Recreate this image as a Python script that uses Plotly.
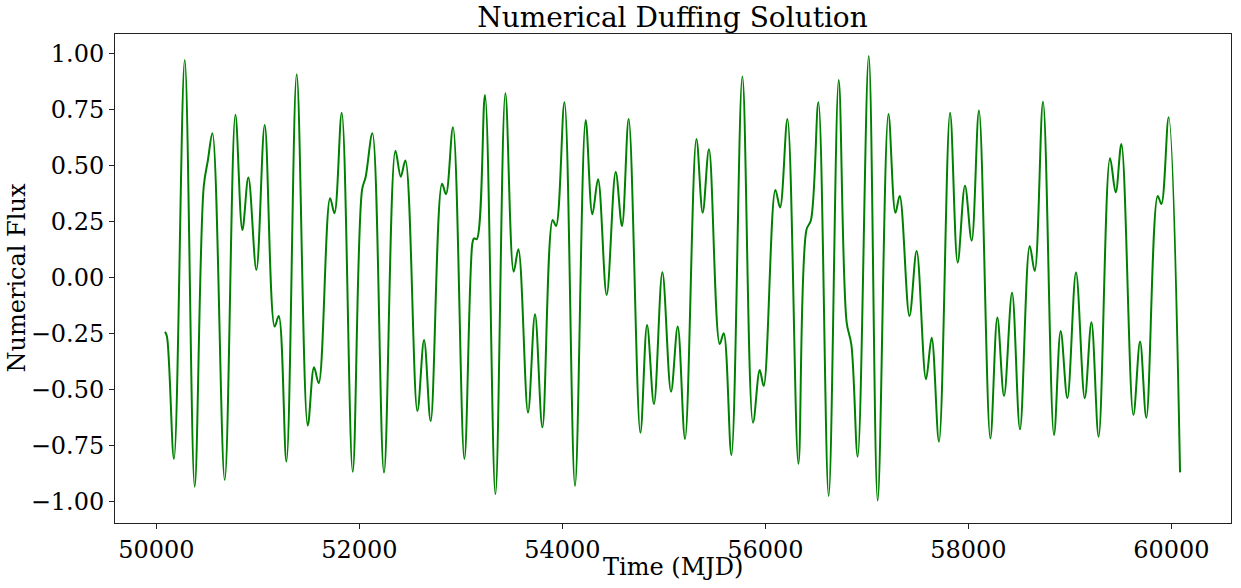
import plotly.graph_objects as go

# Extrema and shoulders of the numerical Duffing solution
time_mjd = [
    50085, 50104, 50173, 50279, 50377, 50466, 50508, 50552, 50673, 50778,
    50847, 50906, 50985, 51067, 51165, 51205, 51281, 51382, 51491, 51553,
    51599, 51711, 51754, 51826, 51934, 52026, 52062, 52128, 52242, 52355,
    52407, 52453, 52571, 52637, 52702, 52814, 52853, 52922, 53034, 53113,
    53129, 53156, 53237, 53340, 53438, 53520, 53566, 53661, 53730, 53803,
    53904, 53937, 54020, 54124, 54229, 54295, 54351, 54436, 54525, 54587,
    54653, 54768, 54834, 54902, 54985, 55070, 55136, 55208, 55320, 55382,
    55444, 55550, 55589, 55665, 55773, 55878, 55944, 55983, 56098, 56144,
    56217, 56325, 56404, 56449, 56522, 56623, 56722, 56800, 56847, 56909,
    57018, 57106, 57212, 57281, 57323, 57419, 57490, 57582, 57638, 57710,
    57819, 57894, 57966, 58032, 58104, 58216, 58285, 58351, 58430, 58508,
    58604, 58653, 58735, 58843, 58909, 58975, 59060, 59146, 59212, 59283,
    59395, 59451, 59507, 59625, 59691, 59753, 59865, 59901, 59973, 60085,
]
flux = [
    -0.243, -0.265, -0.811, 0.970, -0.935, 0.404, 0.524, 0.643, -0.905, 0.725,
    0.211, 0.445, 0.033, 0.680, -0.220, -0.173, -0.823, 0.906, -0.662, -0.402,
    -0.473, 0.353, 0.286, 0.735, -0.868, 0.390, 0.449, 0.643, -0.872, 0.565,
    0.449, 0.521, -0.597, -0.280, -0.642, 0.417, 0.371, 0.670, -0.811, 0.152,
    0.174, 0.170, 0.814, -0.969, 0.821, 0.025, 0.125, -0.604, -0.165, -0.670,
    0.256, 0.229, 0.781, -0.932, 0.702, 0.281, 0.438, -0.079, 0.470, 0.229,
    0.707, -0.694, -0.213, -0.566, 0.022, -0.511, -0.220, -0.722, 0.617, 0.288,
    0.571, -0.298, -0.250, -0.793, 0.896, -0.649, -0.414, -0.485, 0.390, 0.312,
    0.707, -0.833, 0.211, 0.256, 0.781, -0.976, 0.881, -0.200, -0.302, -0.801,
    0.988, -0.997, 0.729, 0.288, 0.363, -0.173, 0.117, -0.455, -0.270, -0.734,
    0.735, 0.065, 0.409, 0.163, 0.744, -0.719, -0.180, -0.530, -0.069, -0.679,
    0.140, 0.028, 0.784, -0.704, -0.240, -0.540, 0.021, -0.540, -0.201, -0.712,
    0.531, 0.379, 0.595, -0.615, -0.287, -0.627, 0.363, 0.327, 0.714, -0.871,
]

x_ticks = [50000, 52000, 54000, 56000, 58000, 60000]
y_ticks = [-1.0, -0.75, -0.5, -0.25, 0.0, 0.25, 0.5, 0.75, 1.0]

font = "DejaVu Serif"

fig = go.Figure()
fig.add_trace(go.Scatter(
    x=time_mjd, y=flux,
    mode="lines",
    line=dict(color="green", width=2, shape="spline", smoothing=1.0),
    showlegend=False,
))

axis_style = dict(
    showline=True, linecolor="#222", linewidth=1, mirror=True,
    ticks="outside", ticklen=5, tickcolor="#222", tickwidth=1,
    showgrid=False, zeroline=False, automargin=False,
    tickfont=dict(family=font, size=24, color="black"),
)

fig.update_layout(
    width=1241, height=588, autosize=False,
    margin=dict(l=115, r=10, t=34, b=65),
    paper_bgcolor="white", plot_bgcolor="white",
    title=dict(text="Numerical Duffing Solution", x=0.5419, xanchor="center",
               y=0.970, yanchor="middle",
               font=dict(family=font, size=28, color="black")),
    xaxis=dict(axis_style, range=[49592, 60587], tickvals=x_ticks,
               tickformat="d"),
    yaxis=dict(axis_style, range=[-1.097, 1.086], tickvals=y_ticks,
               tickformat=".2f"),
    annotations=[
        dict(text="Time (MJD)", xref="paper", yref="paper", x=0.5, y=0,
             xanchor="center", yanchor="middle", yshift=-44, showarrow=False,
             font=dict(family=font, size=24, color="black")),
        dict(text="Numerical Flux", xref="paper", yref="paper", x=0, y=0.5,
             xanchor="center", yanchor="middle", xshift=-99, textangle=-90,
             showarrow=False, font=dict(family=font, size=24, color="black")),
    ],
)

# drop the default 8px page margin so the figure fills the window exactly
fig.write_html("out.html", config={"displayModeBar": False},
               post_script="document.body.style.margin='0';")
